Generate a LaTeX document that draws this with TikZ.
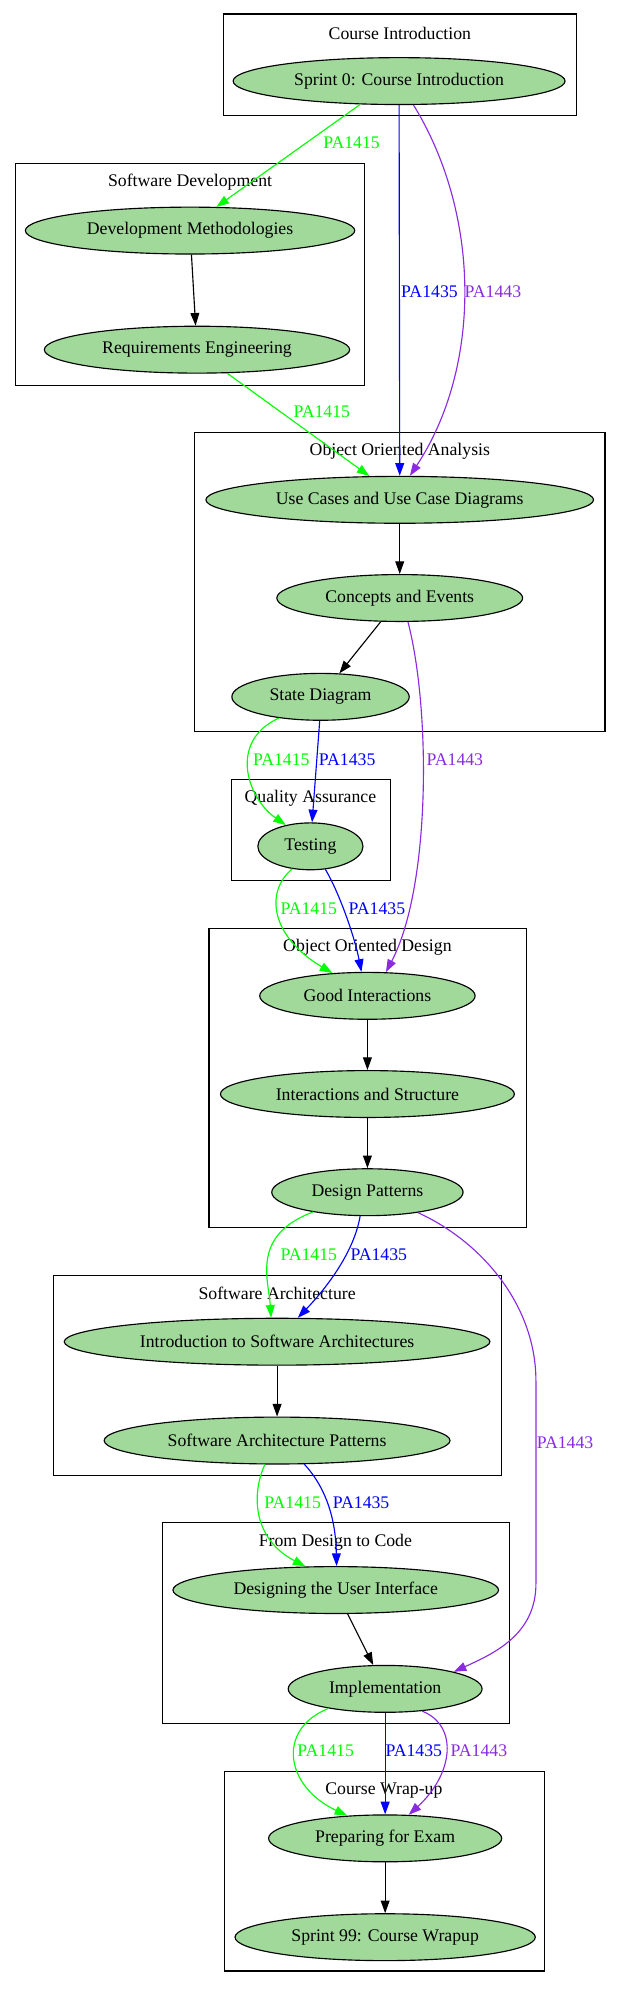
\documentclass[tikz,border=0pt]{standalone}
\usepackage{fontspec}
\setmainfont{Liberation Serif}
\usetikzlibrary{shapes.geometric, arrows.meta}
\definecolor{topicgreen}{HTML}{A1D99B}
\definecolor{pagreen}{HTML}{00FF00}
\definecolor{pablue}{HTML}{0000FF}
\definecolor{papurple}{HTML}{8A2BE2}

\begin{document}
\begin{tikzpicture}[x=1pt, y=-1pt,
	every node/.style={font=\fontsize{14pt}{16pt}\selectfont, inner sep=0pt},
	topic/.style={ellipse, draw, line width=0.9pt, fill=topicgreen, minimum height=37pt},
	cluster/.style={draw, line width=0.9pt},
	flow/.style={line width=0.9pt, -{Triangle[length=10pt,width=7pt]}},
	pa1415/.style={flow, color=pagreen},
	pa1435/.style={flow, color=pablue},
	pa1443/.style={flow, color=papurple}]

	\useasboundingbox (0,0) rectangle (490.1,1569.9);

	% clusters
	\draw[cluster] (176.6,11) rectangle (454.7,91.3);
	\draw[cluster] (12.5,129) rectangle (288,304);
	\draw[cluster] (153.4,341.5) rectangle (477.5,577.5);
	\draw[cluster] (183,615) rectangle (308.5,695);
	\draw[cluster] (165,733) rectangle (415.6,968.6);
	\draw[cluster] (42,1006.7) rectangle (395.6,1164.6);
	\draw[cluster] (128,1202) rectangle (402,1360);
	\draw[cluster] (177.5,1398.5) rectangle (430,1555.7);

	\node (cintro) at (315.6,26.3) {Course Introduction};
	\node (csoftdev) at (150,144) {Software Development};
	\node (cooa) at (315.6,356.5) {Object Oriented Analysis};
	\node (cqa) at (245,630) {Quality Assurance};
	\node (cood) at (290,747.7) {Object Oriented Design};
	\node (carch) at (218.7,1021) {Software Architecture};
	\node (ccode) at (264.7,1217) {From Design to Code};
	\node (cwrap) at (303,1413) {Course Wrap-up};

	% topics
	\node[topic, minimum width=262pt] (s0) at (315,64) {Sprint 0: Course Introduction};
	\node[topic, minimum width=260pt] (devmeth) at (150,182) {Development Methodologies};
	\node[topic, minimum width=241pt] (reqeng) at (155.5,276) {Requirements Engineering};
	\node[topic, minimum width=306pt] (usecases) at (315.5,394.5) {Use Cases and Use Case Diagrams};
	\node[topic, minimum width=194pt] (concepts) at (315.5,472) {Concepts and Events};
	\node[topic, minimum width=140pt] (statediag) at (253,550) {State Diagram};
	\node[topic, minimum width=83pt] (testing) at (245,668) {Testing};
	\node[topic, minimum width=170pt] (goodint) at (290,786) {Good Interactions};
	\node[topic, minimum width=232pt] (intstruct) at (290,863.5) {Interactions and Structure};
	\node[topic, minimum width=151pt] (despat) at (290,941) {Design Patterns};
	\node[topic, minimum width=336pt] (introsa) at (218.7,1059) {Introduction to Software Architectures};
	\node[topic, minimum width=273pt] (sapat) at (218.7,1137) {Software Architecture Patterns};
	\node[topic, minimum width=257pt] (userif) at (265,1255) {Designing the User Interface};
	\node[topic, minimum width=153pt] (impl) at (304,1333) {Implementation};
	\node[topic, minimum width=184pt] (exam) at (304,1451) {Preparing for Exam};
	\node[topic, minimum width=237pt] (s99) at (304,1529) {Sprint 99: Course Wrapup};

	% order within clusters
	\draw[flow] (devmeth) -- (reqeng);
	\draw[flow] (usecases) -- (concepts);
	\draw[flow] (concepts) -- (statediag);
	\draw[flow] (goodint) -- (intstruct);
	\draw[flow] (intstruct) -- (despat);
	\draw[flow] (introsa) -- (sapat);
	\draw[flow] (userif) -- (impl);
	\draw[flow] (exam) -- (s99);

	% PA1415
	\draw[pa1415] (s0.-149) -- (devmeth.42);
	\draw[pa1415] (reqeng.-38) -- (usecases.142.5);
	\draw[pa1415] (statediag.-153.6) .. controls (180,585) and (195,630) .. (testing.139.6);
	\draw[pa1415] (testing.-129.3) .. controls (208,705) and (215,740) .. (goodint.147.7);
	\draw[pa1415] (despat.-160) .. controls (198,975) and (212,1010) .. (introsa.104);
	\draw[pa1415] (sapat.-117) .. controls (198,1180) and (200,1215) .. (userif.142.4);
	\draw[pa1415] (impl.-161.6) .. controls (218,1365) and (225,1410) .. (exam.149.6);

	% PA1435
	\draw[pa1435] (s0.south) -- (usecases.north);
	\draw[pa1435] (statediag.-92) -- (testing.86);
	\draw[pa1435] (testing.-57.3) .. controls (268,705) and (280,740) .. (goodint.104.7);
	\draw[pa1435] (despat.-107.7) .. controls (280,985) and (262,1012) .. (introsa.49.4);
	\draw[pa1435] (sapat.-41) .. controls (258,1175) and (265,1200) .. (userif.88);
	\draw[pa1435] (impl.south) -- (exam.north);

	% PA1443
	\draw[pa1443] (s0.-59.4) .. controls (380,170) and (380,290) .. (usecases.67);
	\draw[pa1443] (concepts.-71) .. controls (340,560) and (340,700) .. (goodint.52);
	\draw[pa1443] (despat.-22.6) .. controls (380,980) and (423,1030) .. (423,1090)
		-- (423,1250) .. controls (423,1290) and (390,1305) .. (impl.14);
	\draw[pa1443] (impl.-31) .. controls (362,1362) and (358,1400) .. (exam.45);

	% edge labels
	\node[text=pagreen] (l1) at (277.5,113) {PA1415};
	\node[text=pablue] (l2) at (339,230) {PA1435};
	\node[text=papurple] (l3) at (389,230) {PA1443};
	\node[text=pagreen] (l4) at (254,325) {PA1415};
	\node[text=pagreen] (l5) at (222,599.4) {PA1415};
	\node[text=pablue] (l6) at (274,599.4) {PA1435};
	\node[text=papurple] (l7) at (359,599.4) {PA1443};
	\node[text=pagreen] (l8) at (243.7,717) {PA1415};
	\node[text=pablue] (l9) at (297.5,717) {PA1435};
	\node[text=pagreen] (l10) at (243.7,990.4) {PA1415};
	\node[text=pablue] (l11) at (299,990.4) {PA1435};
	\node[text=papurple] (l12) at (446,1138.6) {PA1443};
	\node[text=pagreen] (l13) at (231,1186) {PA1415};
	\node[text=pablue] (l14) at (285,1186) {PA1435};
	\node[text=pagreen] (l15) at (257,1381.7) {PA1415};
	\node[text=pablue] (l16) at (326.6,1381.7) {PA1435};
	\node[text=papurple] (l17) at (378,1381.7) {PA1443};

\end{tikzpicture}
\end{document}
